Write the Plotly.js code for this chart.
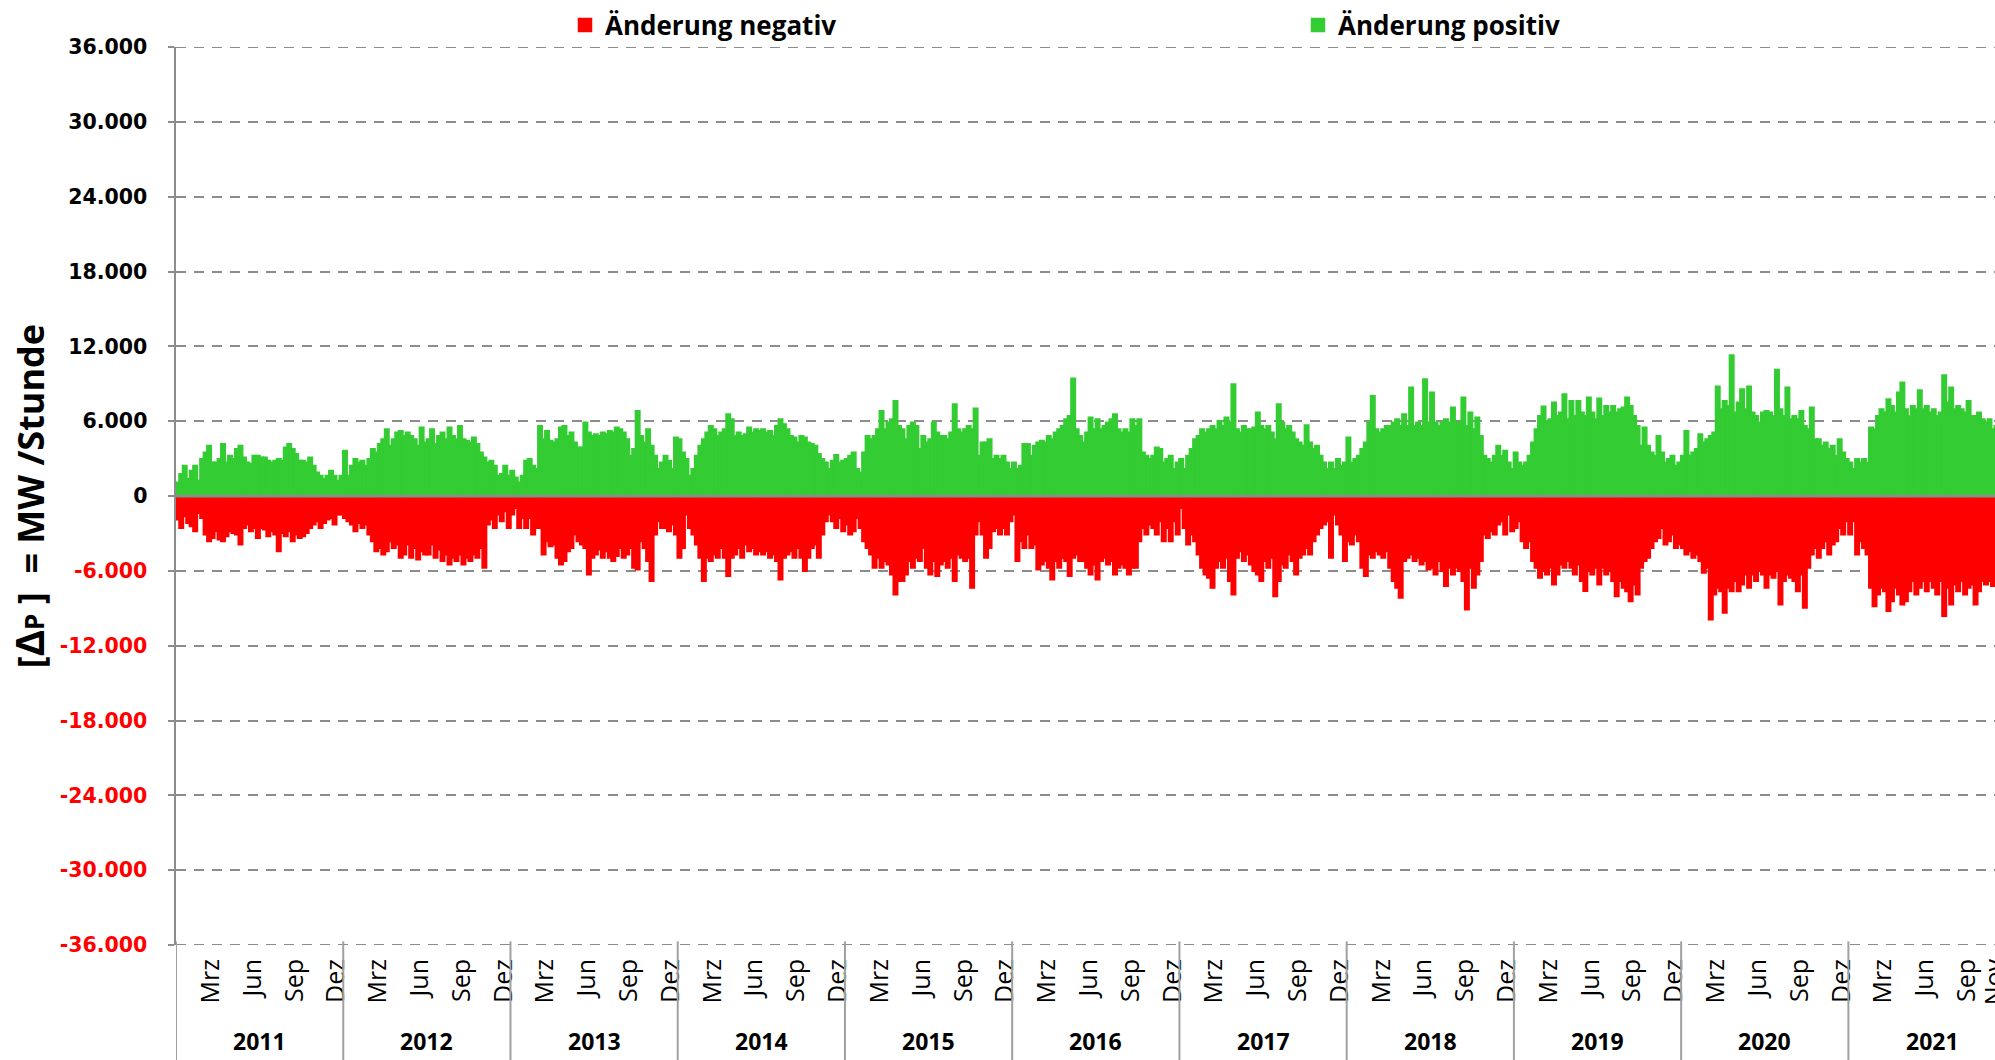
<!DOCTYPE html>
<html><head><meta charset="utf-8">
<script src="https://cdn.plot.ly/plotly-3.0.1.min.js"></script>
<style>html,body{margin:0;padding:0;background:#fff;overflow:hidden}</style>
</head><body><div id="chart" style="width:1995px;height:1060px"></div>
<script>
// Stündliche Leistungsänderung, Envelope je Viertelmonat (MW/Stunde)
const years = ['2011','2012','2013','2014','2015','2016','2017','2018','2019','2020','2021'];
const monthLabels = ['Mrz','Jun','Sep','Dez'];
const monthLabelIdx = [2,5,8,11];
const lastYearMonthLabels = ['Mrz','Jun','Sep','Nov'];
const lastYearMonthIdx = [2,5,8,10];
const yTickValues = [36000,30000,24000,18000,12000,6000,0,-6000,-12000,-18000,-24000,-30000,-36000];
const yTickLabels = ['36.000','30.000','24.000','18.000','12.000','6.000','0','-6.000','-12.000','-18.000','-24.000','-30.000','-36.000'];

const pos2011 = [1070,1740,2400,1335, 2000,2400,1200,2940, 3470,4000,2670,2670, 2940,4140,2670,3200,
 2940,3740,4000,3070, 2670,2540,3200,3200, 3070,3070,2800,2670, 2800,2940,2800,3870,
 4140,3740,3340,2800, 2800,2670,3070,2400, 1870,1600,1335,1600, 2000,1600,1200,1600];
const pos2012 = [3600,1600,2400,2940, 2670,2800,2400,2940, 3740,3470,4140,4540, 5340,4000,4540,5070,
 5200,4800,5070,4800, 4540,4000,5470,4270, 4540,5340,4140,4800, 5070,4540,5470,4800,
 4540,5600,4540,4400, 4270,4670,4140,3470, 3070,2670,2800,2400, 1600,1740,2400,1600];
const pos2013 = [2000,1470,1070,1600, 2800,2940,2400,2140, 5600,4540,5200,4400, 4270,4540,5470,5600,
 4800,5070,4270,3870, 3870,5870,5070,4800, 4940,4800,5070,4940, 5200,5070,5470,5340,
 5070,4540,3200,3740, 6800,4800,4270,5340, 4000,3200,2140,2670, 3200,2800,2140,4670];
const pos2014 = [4540,3470,2940,1600, 2140,3200,4000,4540, 5070,5600,5340,4800, 5070,5340,6540,6140,
 4800,5070,4800,4940, 5470,5070,5340,5200, 5340,5070,5200,4800, 5600,6140,5740,5340,
 4800,4670,4270,4800, 4670,4270,4140,4000, 3340,2940,2670,2140, 2800,3260,2670,2800];
const pos2015 = [2940,3200,3470,2140, 1870,3470,4800,4540, 4800,5340,6800,5340, 5870,6140,7600,5600,
 5340,4540,5600,5870, 5600,3740,4800,4270, 4540,5870,5070,4800, 4800,4540,5070,7340,
 5340,5070,5340,5600, 5340,7000,3200,4270, 4270,4540,2940,3200, 2940,3200,2670,2140];
const pos2016 = [2670,2140,2400,4140, 4140,3200,4000,4270, 4400,4270,4800,4540, 5070,5340,5600,6140,
 6400,9400,5340,4800, 4270,5070,6270,5340, 6140,5340,5600,5870, 6140,6540,5340,5070,
 5340,5070,6140,5600, 6140,3470,3200,2940, 3200,3870,3740,2670, 2940,3200,2140,2670];
const pos2017 = [2940,2140,3200,3740, 4540,4800,5340,5070, 5340,5600,5340,6000, 5600,6270,5870,8940,
 5340,5070,5600,5340, 5340,5470,6670,5600, 5340,5600,5070,4540, 7340,5870,5340,5600,
 5070,4540,4270,4000, 5660,4270,3740,4000, 3200,2670,2140,2670, 2140,2940,2400,2670];
const pos2018 = [4670,2670,2940,3200, 3740,4270,5870,8000, 5340,5070,5340,5600, 5600,5870,6140,5600,
 6540,5600,8680,5600, 5870,5600,9340,5870, 8280,5870,5600,5870, 6140,5870,7070,5870,
 5870,7870,5600,6670, 5340,6270,4800,3200, 2940,2670,3200,4000, 3200,3600,2670,2140];
const pos2019 = [3470,2670,2400,2670, 3200,4270,5340,6400, 7150,5870,6140,7470, 6400,6670,8140,6140,
 7600,6400,7600,6670, 6400,7870,6670,6140, 7800,6400,7200,6670, 7200,6670,6940,7070,
 7870,7200,6400,5600, 4000,5470,4000,3470, 3200,4800,3470,2670, 2940,3200,2400,2670];
const pos2020 = [3200,5200,3200,3470, 3740,4940,4270,4540, 4800,5070,8760,6940, 7600,7200,11270,6670,
 7470,8540,6940,8760, 6670,6400,5870,6670, 6800,6670,6400,10100, 6940,6400,8680,6140,
 6400,6140,6800,5600, 5340,7070,4540,4540, 4000,4270,3740,4000, 3200,4540,3470,2940];
const pos2021 = [2670,2140,2940,2670, 2940,2670,5470,5340, 6400,6940,6670,7740, 7200,6670,8280,9080,
 6940,6400,7200,6940, 8460,6940,7200,6670, 6940,6400,6670,9670, 7470,8680,6940,7200,
 6940,6670,7600,6400, 6400,6670,6140,5870, 6140,5340,5600,5340];

const neg2011 = [-1870,-2540,-1600,-2140, -2400,-2800,-1340,-1740, -3070,-3600,-3340,-2800, -3470,-3600,-3200,-2800,
 -2940,-3070,-3870,-2540, -2270,-2800,-2540,-3340, -2540,-2670,-3200,-2800, -3070,-4400,-2940,-3200,
 -2800,-3600,-3070,-3340, -3200,-2940,-2540,-2270, -2000,-2540,-2140,-1870, -1740,-2270,-1470,-1470];
const neg2012 = [-1740,-2000,-2270,-2800, -2140,-2540,-2270,-3070, -3600,-4400,-4140,-4670, -4400,-3600,-4140,-3870,
 -4940,-4670,-3870,-4940, -4140,-5070,-4400,-4670, -4670,-3870,-4940,-4270, -5200,-4670,-5470,-4940,
 -5200,-4670,-5470,-4940, -5200,-4670,-4940,-4140, -5740,-2270,-1870,-2540, -1470,-2000,-1200,-2540];
const neg2013 = [-1470,-940,-2540,-1740, -2540,-1740,-3070,-2540, -2540,-4670,-3600,-4000, -3870,-4940,-5470,-5200,
 -4400,-4140,-3070,-3600, -3870,-4140,-6270,-4940, -4670,-4270,-4940,-4400, -4940,-5200,-4800,-4140,
 -4940,-4670,-4140,-5740, -5870,-3600,-4140,-5200, -6800,-3070,-2000,-2540, -2540,-2800,-2270,-3070];
const neg2014 = [-4940,-4140,-1470,-2540, -3070,-3870,-4940,-6800, -4940,-5200,-4670,-4940, -4140,-4940,-6400,-4940,
 -4670,-4140,-4940,-3870, -4400,-4140,-4670,-4400, -4670,-4400,-4940,-4670, -5200,-6670,-4940,-4670,
 -4400,-4940,-4140,-4940, -6000,-4940,-4140,-3870, -4940,-3070,-2000,-1470, -2000,-2540,-1740,-2800];
const neg2015 = [-2270,-3070,-2800,-1740, -2540,-3600,-4140,-4670, -5740,-4940,-5740,-5200, -5470,-6270,-7870,-6800,
 -6800,-6270,-5200,-5740, -4940,-5200,-4140,-5740, -6270,-5200,-6400,-5470, -5200,-5740,-4940,-6800,
 -4670,-4940,-5200,-4940, -7340,-3070,-2000,-3070, -4940,-4140,-2800,-2540, -3070,-2540,-3070,-2000];
const neg2016 = [-1470,-5200,-3600,-4140, -3070,-4140,-3870,-5870, -5470,-5200,-5740,-6670, -5200,-5740,-4940,-5200,
 -6400,-4940,-4670,-5200, -5200,-5740,-6270,-5470, -6670,-5200,-4940,-5470, -5200,-6270,-5740,-5470,
 -5740,-6270,-5740,-5740, -3600,-2540,-3070,-2270, -2540,-3070,-2000,-3600, -2540,-3600,-2000,-3070];
const neg2017 = [-940,-2540,-3870,-3070, -3600,-4670,-5740,-6270, -6540,-7340,-5740,-5200, -5740,-4940,-6800,-7870,
 -4940,-4400,-5200,-4670, -5470,-6000,-6270,-6800, -5200,-5740,-4940,-8010, -6800,-5470,-5740,-4670,
 -5200,-6270,-4940,-4670, -4140,-4670,-3600,-3070, -2540,-2270,-2000,-4940, -1470,-2270,-3070,-5200];
const neg2018 = [-3600,-3870,-3070,-3600, -5740,-6400,-4670,-4940, -4400,-4670,-4940,-4400, -5740,-6800,-7340,-8140,
 -5200,-4940,-4670,-5200, -4940,-5470,-5200,-5870, -5740,-6270,-5200,-6000, -7200,-5740,-6270,-5740,
 -6000,-6800,-9080,-5740, -7340,-6270,-5200,-3070, -3340,-2800,-3070,-2270, -2000,-3070,-1470,-2800];
const neg2019 = [-2540,-2000,-3600,-4140, -3600,-5200,-5740,-6540, -6000,-6270,-5740,-7070, -6270,-5470,-5740,-5200,
 -5740,-6270,-5470,-6800, -7600,-6000,-6270,-5740, -7070,-5740,-6270,-6000, -6800,-8010,-6800,-7340,
 -7610,-8410,-7070,-7870, -5740,-5200,-4940,-4140, -3600,-3340,-2540,-3870, -3600,-3070,-4140,-3870];
const neg2020 = [-4140,-4670,-4400,-4940, -4670,-5200,-6140,-5740, -9880,-7870,-7340,-7610, -9340,-7340,-7610,-6800,
 -7610,-7070,-6270,-7340, -6270,-6800,-6000,-6270, -7340,-6270,-6540,-6000, -8680,-6800,-6270,-6540,
 -6800,-7610,-6270,-8940, -5740,-4670,-4140,-4940, -4140,-3600,-4670,-3870, -3600,-2540,-3070,-2000];
const neg2021 = [-3070,-2000,-4670,-3600, -4140,-4670,-7340,-8810, -7870,-7340,-7610,-9210, -8410,-7340,-7870,-8680,
 -8410,-7610,-6800,-7870, -7340,-6800,-7610,-6800, -7340,-7870,-6800,-9610, -7340,-8680,-7070,-7610,
 -6800,-7870,-7340,-7070, -8680,-7610,-6800,-7070, -6800,-7200,-7070,-6800];

const posAll = [].concat(pos2011,pos2012,pos2013,pos2014,pos2015,pos2016,pos2017,pos2018,pos2019,pos2020,pos2021);
const negAll = [].concat(neg2011,neg2012,neg2013,neg2014,neg2015,neg2016,neg2017,neg2018,neg2019,neg2020,neg2021);
// time axis in months since Jan 2011, 4 slots per month
const slotsPerMonth = 4;
const xPos = posAll.map((_, i) => (i + 0.5) / slotsPerMonth);
const xNeg = negAll.map((_, i) => (i + 0.5) / slotsPerMonth);

const tickVals = [], tickText = [];
years.forEach((y, k) => {
  const last = k === years.length - 1;
  const labs = last ? lastYearMonthLabels : monthLabels;
  const idx = last ? lastYearMonthIdx : monthLabelIdx;
  labs.forEach((l, j) => { tickVals.push(k * 12 + idx[j] + 0.5); tickText.push(l); });
});
const yText = yTickLabels.map((t, i) => yTickValues[i] < 0 ? '<span style="color:#ff0000">' + t + '</span>' : t);

const GRID = '#8c8c8c';
const shapes = [
  {type:'line', xref:'paper', yref:'y', x0:0, x1:1, y0:0, y1:0, line:{color:GRID, width:2.5}, layer:'above'},
  {type:'line', xref:'paper', yref:'y', x0:0, x1:1, y0:36000, y1:36000, line:{color:GRID, width:2, dash:'10px,8px'}, layer:'below'},
  {type:'line', xref:'paper', yref:'y', x0:0, x1:1, y0:-36000, y1:-36000, line:{color:GRID, width:2, dash:'10px,8px'}, layer:'below'}
];
for (let k = 0; k <= years.length - 1; k++) {
  shapes.push({type:'line', xref:'x', yref:'paper', x0:k*12, x1:k*12, y0:0.004, y1:-0.14, line:{color:'#a0a0a0', width:2}});
}
const annotations = years.map((y, k) => ({
  text: y, xref:'x', yref:'paper', x: k*12 + 6, y: -0.1069, yanchor:'middle', showarrow:false,
  font:{family:'Open Sans', size:23, weight:'bold', color:'#000'}
}));

const traces = [
  {type:'bar', name:'Änderung negativ', x:xNeg, y:negAll, width:1/slotsPerMonth, legendwidth:688,
   marker:{color:'#ff0000', line:{width:2.5, color:'#ff0000'}}},
  {type:'bar', name:'Änderung positiv', x:xPos, y:posAll, width:1/slotsPerMonth, legendwidth:240,
   marker:{color:'#33cc33', line:{width:2.5, color:'#33cc33'}}}
];

const layout = {
  width:1995, height:1060,
  margin:{l:176, r:0, t:47, b:115, pad:0},
  paper_bgcolor:'#fff', plot_bgcolor:'#fff',
  barmode:'overlay', bargap:0,
  showlegend:true,
  legend:{orientation:'h', x:(565-176)/1819, xanchor:'left', y:1+22/898, yanchor:'middle',
    bgcolor:'rgba(0,0,0,0)',
    font:{family:'Open Sans', size:26, weight:'bold', color:'#000'}},
  xaxis:{range:[0,130.52], showgrid:false, zeroline:false, showline:false, ticks:'',
    tickmode:'array', tickvals:tickVals, ticktext:tickText, tickangle:-90, ticklabeloverflow:'allow',
    tickfont:{family:'Open Sans', size:25, color:'#000'}, ticklabelstandoff:8},
  yaxis:{range:[-36000,36000], tickmode:'array', tickvals:yTickValues, ticktext:yText,
    showgrid:true, gridcolor:GRID, gridwidth:2, griddash:'10px,8px', zeroline:false,
    showline:true, linecolor:GRID, linewidth:2.5, ticks:'outside', ticklen:6, tickwidth:2, tickcolor:GRID,
    tickfont:{family:'DejaVu Sans', size:20.5, weight:'bold', color:'#000'}, ticklabelstandoff:16,
    title:{text:'[<span style="font-size:40px">Δ</span><span style="font-size:26px">P</span>\u00a0]\u00a0\u00a0=\u00a0MW\u00a0/Stunde',
      font:{family:'Open Sans', size:36, weight:'bold', color:'#000'}, standoff:4}},
  shapes:shapes, annotations:annotations, hovermode:false
};
Plotly.newPlot('chart', traces, layout, {displayModeBar:false, staticPlot:true});
</script></body></html>
